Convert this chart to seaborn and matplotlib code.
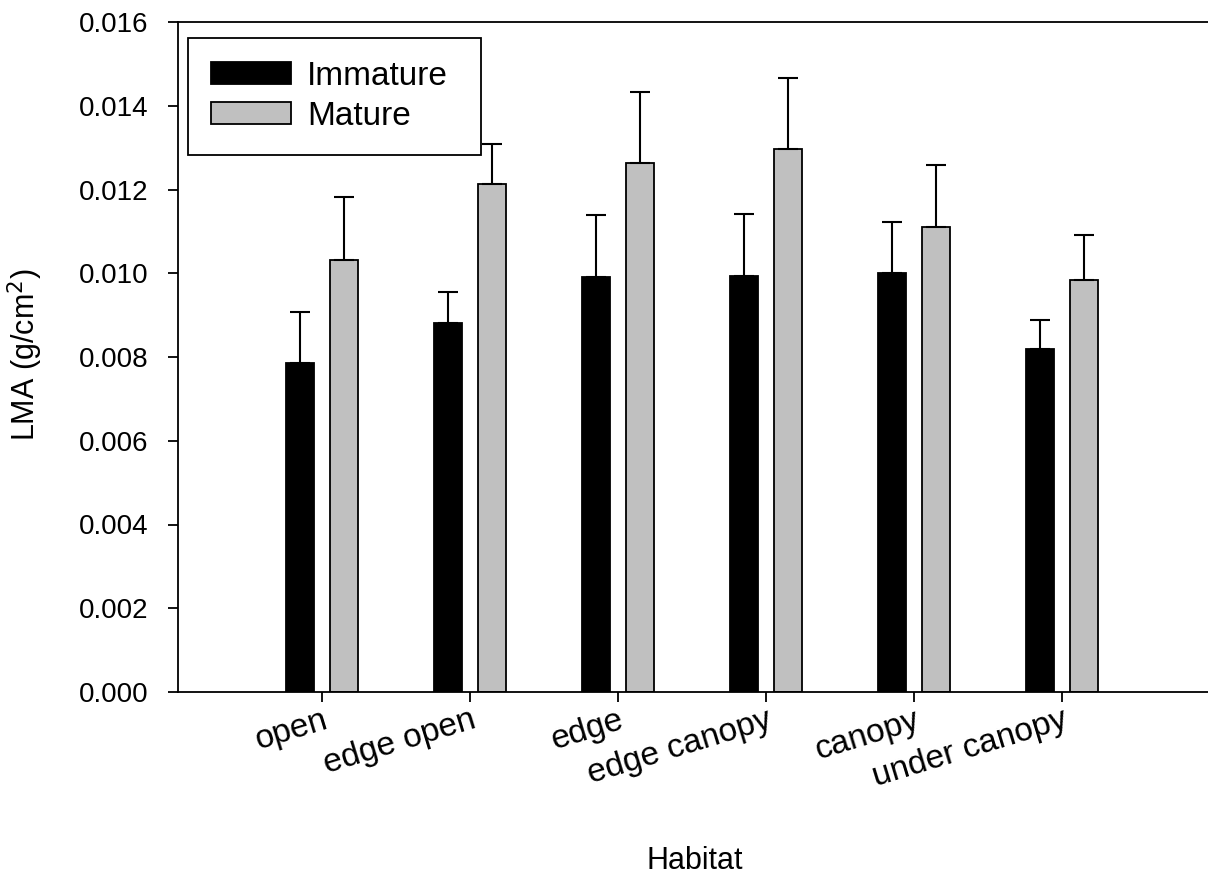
import numpy as np
import pandas as pd
import matplotlib
matplotlib.use("Agg")
import matplotlib.pyplot as plt
import seaborn as sns
from matplotlib.ticker import FormatStrFormatter

habitats = ["open", "edge open", "edge", "edge canopy", "canopy", "under canopy"]
groups = ["Immature", "Mature"]
immature_mean = [0.00786, 0.00882, 0.00991, 0.00994, 0.01001, 0.00819]
immature_err = [0.00121, 0.00074, 0.00149, 0.00148, 0.00121, 0.00069]
mature_mean = [0.01032, 0.01212, 0.01263, 0.01296, 0.01111, 0.00984]
mature_err = [0.00150, 0.00097, 0.00170, 0.00170, 0.00148, 0.00107]

sns.set_style("ticks")
plt.rcParams["font.family"] = ["Liberation Sans", "DejaVu Sans"]
plt.rcParams["text.color"] = "black"
plt.rcParams["axes.labelcolor"] = "black"
plt.rcParams["xtick.color"] = "black"
plt.rcParams["ytick.color"] = "black"

df = pd.DataFrame({
    "Habitat": habitats * 2,
    "Stage": ["Immature"] * 6 + ["Mature"] * 6,
    "LMA": immature_mean + mature_mean,
})
errs = immature_err + mature_err

fig = plt.figure(figsize=(12.08, 8.75), dpi=100)
ax = fig.add_axes([178 / 1208, 1 - 692 / 875, 1 - 178 / 1208, 670 / 875])

sns.barplot(data=df, x="Habitat", y="LMA", hue="Stage", order=habitats, hue_order=groups,
            palette={"Immature": "black", "Mature": "#c0c0c0"}, width=0.6, gap=0.37,
            errorbar=None, edgecolor="black", linewidth=1.3, saturation=1, ax=ax)

# upper error bars, placed from the bars seaborn drew
bars = [p for p in ax.patches if p.get_height() > 0][:12]
xs = [p.get_x() + p.get_width() / 2 for p in bars]
hs = [p.get_height() for p in bars]
ax.errorbar(xs, hs, yerr=[np.zeros(len(hs)), errs], fmt="none", ecolor="black",
            elinewidth=1.5, capsize=7.5, capthick=1.5, zorder=1)

ax.set_xlim(-0.973, 5.986)
ax.set_ylim(0, 0.016)
ax.set_yticks(np.arange(0, 0.0161, 0.002))
ax.yaxis.set_major_formatter(FormatStrFormatter("%.3f"))

for s in ["left", "bottom", "top"]:
    ax.spines[s].set_linewidth(1.3)
    ax.spines[s].set_color("black")
ax.spines["right"].set_visible(False)

ax.tick_params(axis="y", labelsize=20, length=7, width=1.3, pad=14, direction="out")
ax.tick_params(axis="x", labelsize=24, length=7, width=1.3, pad=2, direction="out")
for lab in ax.get_xticklabels():
    lab.set_rotation(17)
    lab.set_ha("right")
    lab.set_va("top")
    lab.set_rotation_mode("anchor")

ax.set_xlabel("Habitat", fontsize=22)
ax.set_ylabel("LMA (g/cm$^2$)", fontsize=22)
ax.xaxis.set_label_coords(0.502, -0.23)
ax.yaxis.set_label_coords(-0.129, 0.503)

handles, labels = ax.get_legend_handles_labels()
ax.legend(handles, labels, loc="upper left",
          bbox_to_anchor=(188 / 1208, 1 - 154 / 875, 293 / 1208, 116 / 875),
          bbox_transform=fig.transFigure, mode="expand", borderaxespad=0, fontsize=24,
          frameon=True, fancybox=False, edgecolor="black", framealpha=1, handlelength=2.4,
          handleheight=0.62, labelspacing=0.28, borderpad=0.68, handletextpad=0.5)
ax.get_legend().get_frame().set_linewidth(1.3)

fig.savefig("out.png", dpi=100)
